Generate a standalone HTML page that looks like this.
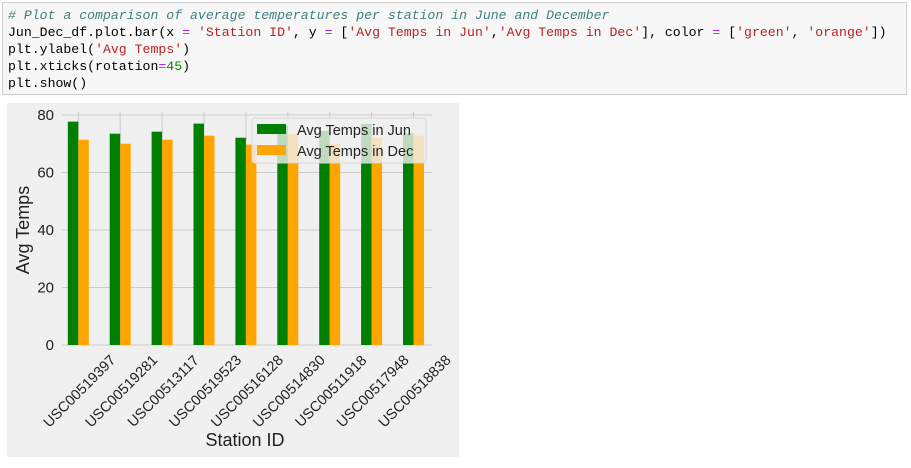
<!DOCTYPE html>
<html><head><meta charset="utf-8"><style>
body{margin:0;width:911px;height:468px;background:#fff;overflow:hidden;font-family:"Liberation Sans",sans-serif}
.code{position:absolute;left:2px;top:2px;width:905px;height:93px;background:#f7f7f7;border:1px solid #cfcfcf;font-family:"Liberation Mono",monospace;font-size:13.2px;line-height:17px;padding:4px 0 0 5px;box-sizing:border-box;color:#000;white-space:pre}
.c{color:#408080;font-style:italic}.s{color:#ba2121}.o{color:#aa22ff}.n{color:#080}
</style></head><body>
<div class="code"><span class="c"># Plot a comparison of average temperatures per station in June and December</span>
Jun_Dec_df.plot.bar(x <span class="o">=</span> <span class="s">'Station ID'</span>, y <span class="o">=</span> [<span class="s">'Avg Temps in Jun'</span>,<span class="s">'Avg Temps in Dec'</span>], color <span class="o">=</span> [<span class="s">'green'</span>, <span class="s">'orange'</span>])
plt.ylabel(<span class="s">'Avg Temps'</span>)
plt.xticks(rotation<span class="o">=</span><span class="n">45</span>)
plt.show()</div>
<svg id="chart" width="911" height="468" style="position:absolute;left:0;top:0">
<rect x="7" y="103" width="452" height="354" fill="#f0f0f0"/>
<g id="g"></g>
</svg>
<script>
const stations=['USC00519397','USC00519281','USC00513117','USC00519523','USC00516128','USC00514830','USC00511918','USC00517948','USC00518838'];
const junTemps=[77.7,73.5,74.2,77.0,72.1,76.3,74.5,76.9,73.6];
const decTemps=[71.4,70.0,71.4,72.8,69.7,73.5,70.0,72.0,72.8];
const yTicks=[0,20,40,60,80];
const ns='http://www.w3.org/2000/svg';
const g=document.getElementById('g');
const y0=345,pxPerUnit=2.875,x0=78.3,step=41.9,bw=10.5;
const ys=v=>y0-v*pxPerUnit, xs=i=>x0+i*step;
function mk(t,a){const e=document.createElementNS(ns,t);for(const k in a)e.setAttribute(k,a[k]);g.appendChild(e);return e;}
yTicks.forEach(t=>{
 const l=mk('line',{x1:62,x2:432,y1:ys(t),y2:ys(t),stroke:'#cbcbcb','stroke-width':1});
 
 
 const tx=mk('text',{x:54,y:ys(t)+5,'text-anchor':'end','font-size':15,fill:'#222'});tx.textContent=t;
 
 
});
stations.forEach((s,i)=>{
 const l=mk('line',{x1:xs(i),x2:xs(i),y1:ys(80)-3,y2:y0,stroke:'#cbcbcb','stroke-width':1});
 
 
});
stations.forEach((s,i)=>{
 const a=mk('rect',{x:xs(i)-bw,y:ys(junTemps[i]),width:bw,height:y0-ys(junTemps[i]),fill:'green'});
 
 
 const b=mk('rect',{x:xs(i),y:ys(decTemps[i]),width:bw,height:y0-ys(decTemps[i]),fill:'orange'});
 
 
 const cx=xs(i)+1,cy=391;
 const t=mk('text',{x:cx,y:cy+5,'text-anchor':'middle','font-size':14.5,fill:'#222',transform:`rotate(-45 ${cx} ${cy})`});t.textContent=s;
 
 
});
const yl=mk('text',{x:29,y:230,'text-anchor':'middle','font-size':18,fill:'#222',transform:'rotate(-90 29 230)'});yl.textContent='Avg Temps';


const xl=mk('text',{x:245,y:446,'text-anchor':'middle','font-size':18,fill:'#222'});xl.textContent='Station ID';


const lg=mk('rect',{x:252,y:118,width:174,height:45,fill:'#f0f0f0','fill-opacity':0.8,stroke:'#d8d8d8',rx:3});


[['Avg Temps in Jun','green',122],['Avg Temps in Dec','orange',143]].forEach(([n,c,y])=>{
 const r=mk('rect',{x:257,y:y+2,width:29,height:10,fill:c});
 
 
 const t=mk('text',{x:297,y:y+13,'font-size':14.5,fill:'#222'});t.textContent=n;
 
 
});
</script>
</body></html>
